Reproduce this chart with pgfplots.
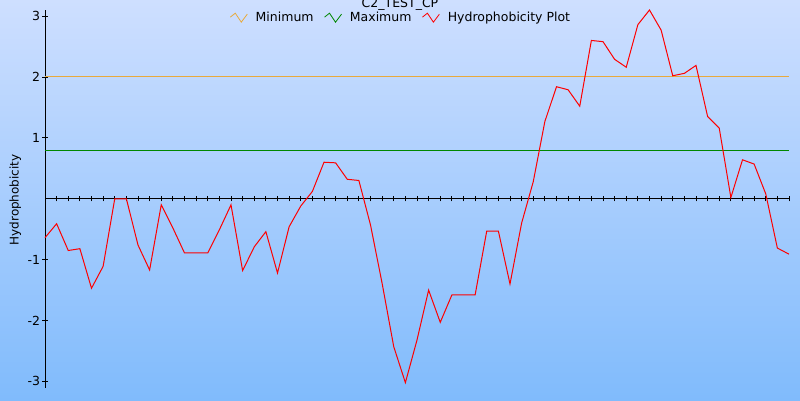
\documentclass[border=0pt]{standalone}
\usepackage{pgfplots}
\pgfplotsset{compat=1.18}
\usepackage{pgfplotstable}
\usepackage{fontspec}
\setmainfont{DejaVu Sans}
\definecolor{bgtop}{RGB}{206,223,255}
\definecolor{bgbot}{RGB}{128,187,252}
\definecolor{minc}{RGB}{232,170,60}
\definecolor{greenline}{RGB}{0,135,0}
\definecolor{hydc}{RGB}{255,0,0}
\pgfplotstableread{
x y
0 -0.64
1 -0.41
2 -0.85
3 -0.82
4 -1.47
5 -1.11
6 0.00
7 0.00
8 -0.76
9 -1.17
10 -0.10
11 -0.48
12 -0.89
13 -0.89
14 -0.89
15 -0.51
16 -0.10
17 -1.18
18 -0.79
19 -0.54
20 -1.22
21 -0.46
22 -0.12
23 0.12
24 0.60
25 0.59
26 0.32
27 0.30
28 -0.43
29 -1.39
30 -2.43
31 -3.02
32 -2.32
33 -1.50
34 -2.03
35 -1.58
36 -1.58
37 -1.58
38 -0.53
39 -0.53
40 -1.40
41 -0.40
42 0.28
43 1.27
44 1.84
45 1.79
46 1.52
47 2.60
48 2.58
49 2.29
50 2.16
51 2.86
52 3.10
53 2.77
54 2.02
55 2.06
56 2.19
57 1.35
58 1.16
59 0.02
60 0.64
61 0.57
62 0.08
63 -0.81
64 -0.91
}\hyd
\begin{document}
\begin{tikzpicture}[x=1pt,y=1pt]
\useasboundingbox (0,0) rectangle (800,400);
\shade[top color=bgtop, bottom color=bgbot] (0,0) rectangle (800,400);
\node[anchor=base, inner sep=0pt, font=\fontsize{12.5}{15}\selectfont] at (400,392) {C2\_TEST\_CP};
\begin{axis}[
  at={(45pt,12.5pt)}, anchor=south west,
  scale only axis, width=744pt, height=377.5pt,
  xmin=0, xmax=64, ymin=-3.1, ymax=3.1,
  axis x line=middle, axis y line=left,
  axis line style={-, black, line width=0.9pt},
  xtick={0,...,64}, xticklabels={},
  ytick={-3,-2,-1,1,2,3},
  tick align=center, major tick length=5pt,
  tick style={black, line width=0.9pt},
  /pgf/number format/assume math mode=true,
  ticklabel style={font=\fontsize{12.5}{15}\selectfont},
  yticklabel style={xshift=1pt},
  ylabel={Hydrophobicity},
  ylabel style={font=\fontsize{12}{14}\selectfont, at={(axis description cs:-0.040,0.497)}, anchor=center, rotate=0},
  clip=false,
  legend columns=-1,
  legend style={draw=none, fill=none, at={(axis description cs:0.4785,0.981)}, anchor=center,
    font=\fontsize{12.5}{15}\selectfont, inner sep=0pt,
    /tikz/every odd column/.append style={column sep=6pt},
    /tikz/every even column/.append style={column sep=8.5pt}},
  legend image code/.code={\draw[#1, line width=0.8pt] (0pt,0pt) -- (5pt,4pt) -- (11pt,-5pt) -- (17pt,3pt);},
]
\addplot[color=minc, line width=1pt] coordinates {(0,2) (64,2)};
\addlegendentry{Minimum}
\addplot[color=greenline, line width=1pt] coordinates {(0,0.8) (64,0.8)};
\addlegendentry{Maximum}
\addplot[color=hydc, line width=1pt] table[x=x, y=y] {\hyd};
\addlegendentry{Hydrophobicity Plot}
\end{axis}
\end{tikzpicture}
\end{document}
